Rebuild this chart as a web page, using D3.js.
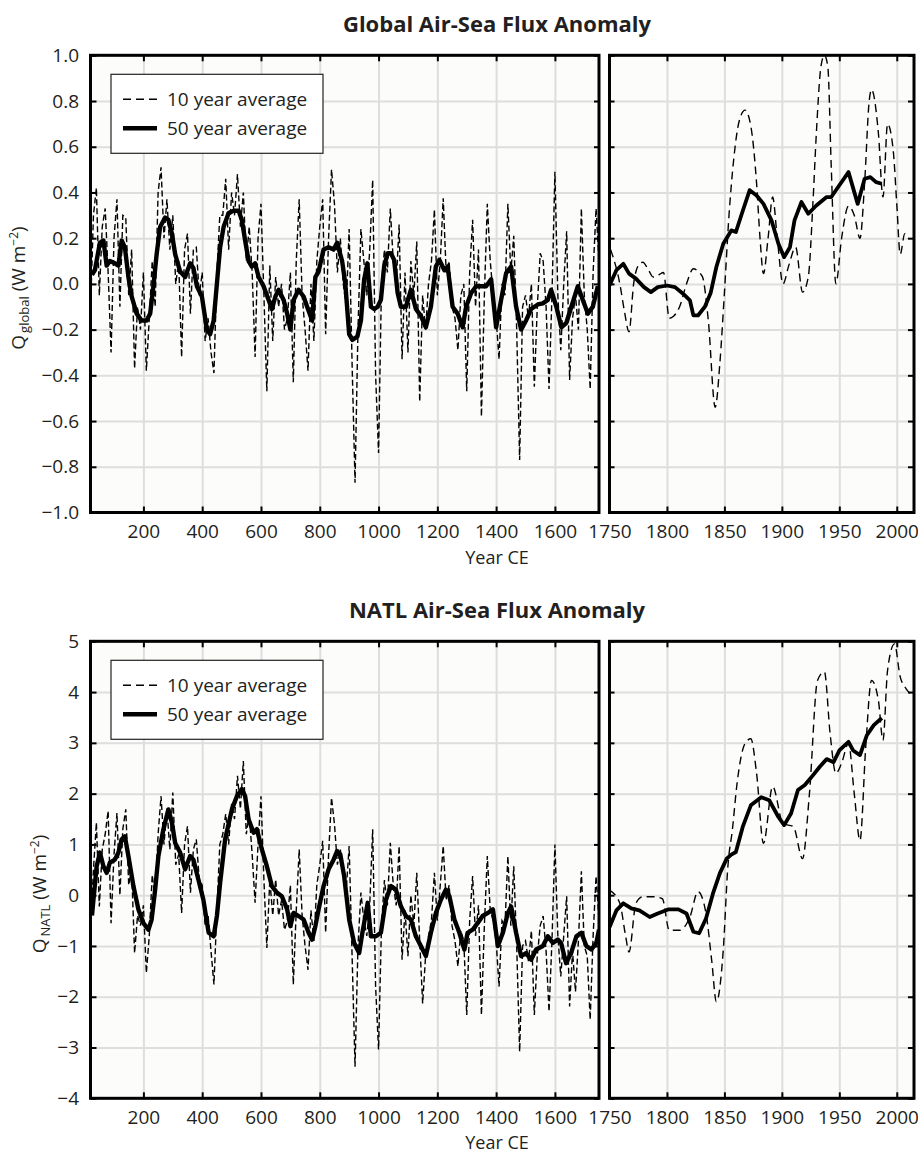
<!DOCTYPE html>
<html><head><meta charset="utf-8">
<script src="https://cdn.jsdelivr.net/npm/d3@7"></script>
<style>
body{margin:0;background:#fff;}
svg{display:block;}
text{font-family:'Open Sans','Noto Sans',sans-serif;fill:#231f20;}
</style>
</head><body>
<svg id="c" width="918" height="1155"></svg>
<script>
// ---------------- DATA ----------------
const leftGridYears = [200, 400, 600, 800, 1000, 1200, 1400, 1600];
const rightGridYears = [1800, 1850, 1900, 1950, 2000];
const rightLabelYears = [1750, 1800, 1850, 1900, 1950, 2000];
const globalTicks = [-1.0, -0.8, -0.6, -0.4, -0.2, 0.0, 0.2, 0.4, 0.6, 0.8, 1.0];
const natlTicks = [-4, -3, -2, -1, 0, 1, 2, 3, 4, 5];
const legendLabels = ["10 year average", "50 year average"];

// Global, 10-year average, 20-1750 CE [year, W m-2]
const global10Left = [
[20,-0.12],[30,0.30],[40,0.42],[50,-0.05],[60,0.25],[70,0.33],[80,0.05],[90,-0.30],[100,0.20],[110,0.37],
[120,-0.10],[130,0.30],[140,0.29],[150,-0.05],[160,0.15],[170,-0.37],[180,-0.10],[190,-0.20],[200,0.05],[210,-0.38],
[220,-0.15],[230,0.10],[240,-0.10],[250,0.40],[260,0.51],[270,0.20],[280,0.37],[290,0.15],[300,0.30],[310,0.00],
[320,0.10],[330,-0.32],[340,0.15],[350,0.22],[360,-0.13],[370,0.15],[380,0.16],[390,-0.05],[400,0.05],[410,-0.25],
[420,-0.15],[430,-0.30],[440,-0.39],[450,0.05],[460,0.30],[470,0.30],[480,0.46],[490,0.15],[500,0.40],[510,0.30],
[520,0.48],[530,0.25],[540,0.40],[550,0.10],[560,0.25],[570,0.05],[580,-0.32],[590,0.20],[600,0.35],[610,-0.05],
[620,-0.47],[630,0.08],[640,-0.25],[650,0.03],[660,-0.10],[670,0.00],[680,-0.20],[690,-0.15],[700,0.05],[710,-0.43],
[720,0.10],[730,0.37],[740,-0.05],[750,-0.20],[760,-0.38],[770,0.00],[780,-0.25],[790,0.10],[800,0.25],[810,0.37],
[820,-0.22],[830,0.20],[840,0.50],[850,0.35],[860,0.05],[870,0.20],[880,0.00],[890,-0.10],[900,0.24],[910,-0.35],
[920,-0.87],[930,-0.20],[940,0.24],[950,0.10],[960,-0.05],[970,0.15],[980,0.455],[990,-0.40],[1000,-0.74],[1010,0.00],
[1020,0.15],[1030,0.05],[1040,0.33],[1050,0.10],[1060,0.00],[1070,0.26],[1080,-0.33],[1090,0.05],[1100,-0.30],[1110,0.10],
[1120,-0.05],[1130,0.185],[1140,-0.515],[1150,-0.05],[1160,-0.20],[1170,0.00],[1180,0.10],[1190,0.325],[1200,-0.05],[1210,0.10],
[1220,0.375],[1230,0.05],[1240,0.10],[1250,-0.10],[1260,-0.15],[1270,-0.29],[1280,-0.05],[1290,0.00],[1300,-0.47],[1310,0.05],
[1320,0.28],[1330,-0.10],[1340,0.15],[1350,-0.58],[1360,-0.05],[1370,0.35],[1380,0.10],[1390,-0.05],[1400,-0.15],[1410,-0.33],
[1420,0.00],[1430,-0.05],[1440,0.35],[1450,0.05],[1460,0.21],[1470,-0.20],[1480,-0.77],[1490,-0.10],[1500,-0.05],[1510,-0.15],
[1520,0.00],[1530,-0.45],[1540,-0.10],[1550,0.134],[1560,0.10],[1570,-0.10],[1580,-0.46],[1590,-0.05],[1600,0.49],[1610,-0.05],
[1620,-0.29],[1630,0.00],[1640,0.23],[1650,-0.42],[1660,-0.15],[1670,-0.05],[1680,-0.20],[1690,0.33],[1700,-0.05],[1710,-0.20],
[1720,-0.46],[1730,0.05],[1740,0.33],[1750,0.10]
];

// Global, 50-year average, 20-1750 CE
const global50Left = [
[25,0.04],[35,0.06],[52,0.18],[64,0.19],[75,0.08],[86,0.10],[103,0.09],[115,0.08],[126,0.19],[137,0.16],
[149,0.03],[160,-0.055],[177,-0.13],[194,-0.16],[211,-0.16],[223,-0.13],[234,-0.01],[245,0.13],[257,0.25],[274,0.29],
[285,0.28],[297,0.22],[308,0.13],[325,0.054],[342,0.03],[359,0.09],[370,0.07],[382,-0.01],[399,-0.055],[416,-0.20],
[427,-0.22],[439,-0.16],[450,0.00],[461,0.16],[473,0.25],[490,0.31],[507,0.32],[524,0.32],[535,0.28],[546,0.19],
[558,0.10],[569,0.076],[580,0.09],[592,0.03],[609,-0.01],[626,-0.07],[637,-0.11],[649,-0.055],[660,-0.026],[677,-0.07],
[689,-0.13],[700,-0.20],[711,-0.07],[728,-0.026],[745,-0.055],[757,-0.10],[774,-0.16],[785,0.03],[796,0.054],[813,0.15],
[830,0.16],[847,0.15],[859,0.18],[876,0.10],[887,0.00],[900,-0.22],[911,-0.245],[928,-0.23],[940,-0.16],[951,0.02],
[962,0.09],[974,-0.10],[985,-0.11],[997,-0.10],[1008,-0.07],[1019,0.076],[1031,0.134],[1042,0.134],[1053,0.105],[1065,-0.04],
[1076,-0.10],[1093,-0.10],[1110,-0.026],[1127,-0.11],[1144,-0.14],[1161,-0.19],[1178,-0.10],[1195,0.076],[1207,0.105],[1224,0.06],
[1235,0.076],[1252,-0.10],[1269,-0.13],[1286,-0.19],[1298,-0.10],[1315,-0.04],[1332,-0.01],[1349,-0.01],[1366,-0.01],[1383,0.02],
[1400,-0.19],[1417,-0.07],[1434,0.047],[1451,0.076],[1468,-0.10],[1485,-0.20],[1502,-0.16],[1519,-0.11],[1542,-0.09],[1559,-0.085],
[1576,-0.07],[1587,-0.026],[1605,-0.10],[1622,-0.19],[1639,-0.17],[1656,-0.10],[1678,-0.01],[1695,-0.07],[1712,-0.13],[1729,-0.10],
[1746,-0.01]
];

// Global, 10-year average, 1750-2015
const global10Right = [
[1751,0.15],[1759,0.00],[1763,-0.12],[1767,-0.21],[1771,0.00],[1775,0.08],[1779,0.095],[1784,0.06],[1788,0.03],[1793,0.04],
[1797,0.05],[1802,-0.15],[1806,-0.14],[1811,-0.10],[1817,0.00],[1823,0.066],[1828,0.05],[1831,0.03],[1836,-0.16],[1842,-0.54],
[1846,-0.35],[1850,-0.04],[1854,0.30],[1858,0.54],[1863,0.715],[1868,0.76],[1873,0.69],[1878,0.44],[1881,0.20],[1884,0.045],
[1888,0.20],[1892,0.38],[1896,0.20],[1901,0.00],[1906,0.08],[1912,0.16],[1918,-0.036],[1923,0.03],[1927,0.35],[1930,0.657],
[1934,0.95],[1937,1.00],[1940,0.95],[1943,0.51],[1947,0.00],[1952,0.20],[1958,0.34],[1963,0.30],[1968,0.20],[1972,0.44],
[1976,0.80],[1978,0.85],[1984,0.66],[1988,0.38],[1992,0.70],[1997,0.58],[2000,0.35],[2003,0.13],[2007,0.22],[2010,0.20]
];

// Global, 50-year average, 1750-2015
const global50Right = [
[1750,-0.007],[1756,0.06],[1762,0.088],[1767,0.045],[1773,0.023],[1780,-0.014],[1786,-0.036],[1792,-0.014],[1800,-0.007],[1807,-0.014],
[1814,-0.043],[1820,-0.072],[1823,-0.138],[1827,-0.138],[1833,-0.10],[1838,-0.04],[1843,0.074],[1849,0.176],[1856,0.234],[1860,0.227],
[1866,0.32],[1872,0.41],[1878,0.387],[1884,0.35],[1891,0.278],[1897,0.176],[1902,0.117],[1907,0.16],[1911,0.278],[1917,0.358],
[1923,0.307],[1930,0.343],[1939,0.38],[1943,0.38],[1949,0.424],[1958,0.489],[1966,0.35],[1972,0.46],[1977,0.467],[1982,0.445],
[1987,0.438]
];

// NATL, 10-year average, 20-1750 CE
const natl10Left = [
[20,-0.68],[30,0.50],[40,1.43],[50,-0.22],[60,0.90],[70,1.20],[80,1.66],[90,-0.55],[100,0.80],[110,1.62],
[120,0.00],[130,1.30],[140,1.69],[150,0.20],[160,0.50],[170,-1.14],[180,-0.40],[190,-0.60],[200,-0.20],[210,-1.53],
[220,-0.80],[230,0.40],[240,-0.09],[250,1.20],[260,1.95],[270,1.00],[280,1.70],[290,0.90],[300,2.02],[310,0.60],
[320,0.80],[330,-0.35],[340,1.00],[350,1.36],[360,0.05],[370,0.90],[380,1.10],[390,0.30],[400,0.20],[410,-0.60],
[420,-0.40],[430,-1.10],[440,-1.76],[450,-0.30],[460,1.00],[470,1.20],[480,1.60],[490,1.00],[500,1.80],[510,1.50],
[520,2.35],[530,1.70],[540,2.64],[550,1.20],[560,1.60],[570,0.80],[580,-0.15],[590,1.00],[600,1.95],[610,0.30],
[620,-1.04],[630,0.31],[640,-0.40],[650,0.31],[660,-0.40],[670,-0.10],[680,-0.68],[690,-0.50],[700,0.20],[710,-1.76],
[720,-0.30],[730,0.90],[740,-0.40],[750,-1.00],[760,-1.47],[770,-0.30],[780,-0.90],[790,0.20],[800,0.60],[810,1.07],
[820,-0.74],[830,0.80],[840,1.92],[850,1.40],[860,0.60],[870,0.90],[880,0.40],[890,0.10],[900,0.97],[910,-1.20],
[920,-3.38],[930,-1.00],[940,0.05],[950,-0.50],[960,-0.80],[970,-0.20],[980,1.30],[990,-1.80],[1000,-3.04],[1010,-0.60],
[1020,0.30],[1030,-0.20],[1040,1.03],[1050,0.20],[1060,-0.20],[1070,0.97],[1080,-1.27],[1090,-0.30],[1100,-1.20],[1110,0.00],
[1120,-0.60],[1130,0.44],[1140,-0.90],[1150,-2.13],[1160,-1.20],[1170,-0.80],[1180,-0.50],[1190,0.44],[1200,-0.50],[1210,0.20],
[1220,0.97],[1230,-0.10],[1240,0.20],[1250,-0.60],[1260,-0.90],[1270,-1.40],[1280,-0.70],[1290,-0.90],[1300,-2.36],[1310,-0.50],
[1320,0.375],[1330,-0.80],[1340,-0.20],[1350,-2.36],[1360,-0.60],[1370,0.77],[1380,-0.30],[1390,-0.50],[1400,-0.90],[1410,-1.80],
[1420,-0.50],[1430,-0.60],[1440,0.77],[1450,-0.60],[1460,0.57],[1470,-1.00],[1480,-3.08],[1490,-1.00],[1500,-0.90],[1510,-1.30],
[1520,-0.70],[1530,-2.36],[1540,-1.20],[1550,-0.60],[1560,-0.41],[1570,-1.10],[1580,-2.29],[1590,-0.90],[1600,1.00],[1610,-0.80],
[1620,-1.60],[1630,-0.80],[1640,-0.02],[1650,-2.19],[1660,-1.10],[1670,-1.90],[1680,-0.90],[1690,0.47],[1700,-1.00],[1710,-1.20],
[1720,-2.45],[1730,-0.80],[1740,0.375],[1750,-0.50]
];

// NATL, 50-year average, 20-1750 CE
const natl50Left = [
[25,-0.40],[30,-0.09],[41,0.57],[52,0.84],[64,0.57],[75,0.44],[86,0.64],[103,0.70],[115,0.84],[126,1.10],
[137,1.16],[149,0.77],[166,0.18],[183,-0.28],[200,-0.55],[217,-0.68],[228,-0.48],[240,0.11],[251,0.77],[268,1.30],
[285,1.69],[297,1.43],[308,1.03],[325,0.84],[342,0.51],[359,0.77],[370,0.70],[387,0.31],[404,-0.09],[422,-0.74],
[439,-0.81],[450,-0.41],[461,0.24],[478,1.10],[501,1.69],[518,1.95],[535,2.09],[546,1.95],[558,1.49],[575,1.23],
[586,1.30],[603,0.90],[620,0.57],[637,0.18],[654,0.05],[671,-0.02],[689,-0.28],[700,-0.61],[711,-0.35],[728,-0.41],
[745,-0.48],[762,-0.74],[774,-0.875],[785,-0.61],[796,-0.28],[813,0.18],[830,0.51],[847,0.70],[859,0.87],[870,0.80],
[883,0.375],[900,-0.48],[917,-0.94],[934,-1.14],[945,-0.74],[963,-0.15],[974,-0.81],[991,-0.81],[1008,-0.74],[1025,-0.09],
[1042,0.18],[1059,0.11],[1076,-0.22],[1093,-0.41],[1110,-0.48],[1127,-0.81],[1144,-1.00],[1161,-1.20],[1178,-0.74],[1195,-0.35],
[1212,-0.09],[1229,0.11],[1241,-0.02],[1258,-0.48],[1275,-0.74],[1292,-1.07],[1303,-0.74],[1320,-0.68],[1337,-0.55],[1354,-0.41],
[1372,-0.35],[1389,-0.28],[1406,-1.00],[1423,-0.74],[1440,-0.35],[1451,-0.22],[1468,-0.74],[1485,-1.20],[1502,-1.14],[1519,-1.27],
[1536,-1.07],[1559,-1.00],[1576,-0.81],[1593,-0.94],[1610,-0.875],[1621,-0.94],[1638,-1.34],[1655,-1.14],[1673,-0.81],[1690,-0.74],
[1707,-1.00],[1724,-1.07],[1741,-0.94],[1750,-0.68]
];

// NATL, 10-year average, 1750-2015
const natl10Right = [
[1750,0.10],[1759,-0.16],[1764,-0.80],[1767,-1.12],[1773,-0.16],[1779,-0.03],[1788,-0.03],[1796,-0.07],[1802,-0.69],[1811,-0.69],
[1820,-0.43],[1827,0.07],[1834,-0.36],[1839,-1.30],[1843,-2.10],[1849,-1.08],[1853,0.56],[1857,1.30],[1861,2.20],[1868,2.99],
[1873,3.08],[1878,2.40],[1884,1.02],[1892,2.14],[1901,1.41],[1910,1.35],[1918,0.72],[1924,2.00],[1931,4.23],[1937,4.40],
[1942,3.18],[1947,2.40],[1952,2.60],[1958,2.99],[1963,2.00],[1968,1.08],[1973,2.92],[1978,4.23],[1984,3.84],[1988,3.05],
[1992,4.43],[1998,4.95],[2003,4.30],[2008,4.07],[2013,3.95]
];

// NATL, 50-year average, 1750-2015
const natl50Right = [
[1750,-0.63],[1756,-0.30],[1762,-0.16],[1769,-0.26],[1776,-0.30],[1785,-0.43],[1792,-0.36],[1801,-0.28],[1810,-0.28],[1817,-0.36],
[1823,-0.72],[1828,-0.75],[1834,-0.46],[1840,0.03],[1846,0.43],[1852,0.72],[1856,0.80],[1860,0.85],[1866,1.35],[1873,1.77],
[1882,1.93],[1889,1.87],[1897,1.54],[1902,1.38],[1908,1.61],[1914,2.07],[1920,2.17],[1927,2.36],[1933,2.53],[1939,2.68],
[1945,2.62],[1950,2.85],[1958,3.02],[1962,2.85],[1968,2.76],[1974,3.15],[1980,3.35],[1987,3.49]
];

// ---------------- LAYOUT ----------------
const panels = {
  left:  {x0: 90.5, x1: 599, domain: [20, 1750], grid: leftGridYears, labels: leftGridYears, dash: "6,3", thick: 4.4},
  right: {x0: 609.5, x1: 914, domain: [1750, 2015], grid: rightGridYears, labels: rightLabelYears, dash: "8,5", thick: 3.8}
};
const charts = [
  {key: "g", top: 55.3, bottom: 512.5, domain: [-1, 1], ticks: globalTicks, fmt: d3.format(".1f"),
   title: "Global Air-Sea Flux Anomaly", sub: "global", labX: 25, labY: 288,
   left10: global10Left, left50: global50Left, right10: global10Right, right50: global50Right},
  {key: "n", top: 641.3, bottom: 1098.3, domain: [-4, 5], ticks: natlTicks, fmt: d3.format("d"),
   title: "NATL Air-Sea Flux Anomaly", sub: "NATL", labX: 46, labY: 894,
   left10: natl10Left, left50: natl50Left, right10: natl10Right, right50: natl50Right}
];

const svg = d3.select("#c");
const defs = svg.append("defs");
const FS = 19;

function styleAxis(sel, color, width) {
  sel.select(".domain").remove();
  sel.attr("font-size", null).attr("font-family", null);
  sel.selectAll("line").attr("stroke", color).attr("stroke-width", width);
}

charts.forEach(ch => {
  const y = d3.scaleLinear().domain(ch.domain).range([ch.bottom, ch.top]);
  const h = ch.bottom - ch.top;

  ["left", "right"].forEach(side => {
    const P = panels[side];
    const w = P.x1 - P.x0;
    const x = d3.scaleLinear().domain(P.domain).range([P.x0, P.x1]);
    const g = svg.append("g");

    g.append("rect").attr("x", P.x0).attr("y", ch.top).attr("width", w).attr("height", h).attr("fill", "#fcfcfb");

    // grid
    g.append("g").attr("transform", `translate(0,${ch.bottom})`)
      .call(d3.axisBottom(x).tickValues(P.grid).tickSize(-h).tickFormat(""))
      .call(s => styleAxis(s, "#dedede", 2));
    g.append("g").attr("transform", `translate(${P.x0},0)`)
      .call(d3.axisLeft(y).tickValues(ch.ticks).tickSize(-w).tickFormat(""))
      .call(s => styleAxis(s, "#dedede", 2));

    // data lines
    const cid = `clip-${ch.key}-${side}`;
    defs.append("clipPath").attr("id", cid).append("rect")
      .attr("x", P.x0).attr("y", ch.top).attr("width", w).attr("height", h);
    const lg = g.append("g").attr("clip-path", `url(#${cid})`);
    const line10 = d3.line().x(d => x(d[0])).y(d => y(d[1]))
      .curve(side === "right" ? d3.curveMonotoneX : d3.curveLinear);
    const line50 = d3.line().x(d => x(d[0])).y(d => y(d[1]));
    lg.append("path").datum(ch[side + "10"]).attr("d", line10)
      .attr("fill", "none").attr("stroke", "#000").attr("stroke-width", 1.4)
      .attr("stroke-dasharray", P.dash);
    lg.append("path").datum(ch[side + "50"]).attr("d", line50)
      .attr("fill", "none").attr("stroke", "#000").attr("stroke-width", P.thick)
      .attr("stroke-linejoin", "round");

    // inward ticks
    const yl = g.append("g").attr("transform", `translate(${P.x0},0)`)
      .call(d3.axisLeft(y).tickValues(ch.ticks).tickSize(side === "left" ? -6 : -5).tickPadding(11.5)
        .tickFormat(side === "left" ? ch.fmt : ""))
      .call(s => styleAxis(s, "#000", 2));
    yl.selectAll("text").attr("font-size", FS).attr("fill", "#231f20");
    g.append("g").attr("transform", `translate(${P.x1},0)`)
      .call(d3.axisRight(y).tickValues(ch.ticks).tickSize(side === "left" ? -5 : -6).tickFormat(""))
      .call(s => styleAxis(s, "#000", 2));
    g.append("g").attr("transform", `translate(0,${ch.top})`)
      .call(d3.axisTop(x).tickValues(P.grid).tickSize(-6).tickFormat(""))
      .call(s => styleAxis(s, "#000", 2));
    const xb = g.append("g").attr("transform", `translate(0,${ch.bottom})`)
      .call(d3.axisBottom(x).tickValues(P.labels).tickSize(-6).tickPadding(12.5).tickFormat(d3.format("d")))
      .call(s => styleAxis(s, "#000", 2));
    xb.selectAll("text").attr("font-size", FS).attr("fill", "#231f20");

    // frame
    g.append("rect").attr("x", P.x0).attr("y", ch.top).attr("width", w).attr("height", h)
      .attr("fill", "none").attr("stroke", "#000").attr("stroke-width", 3);
  });

  // title
  svg.append("text").attr("x", 497).attr("y", ch.top - 23).attr("text-anchor", "middle")
    .attr("font-size", 22).attr("font-weight", 700).text(ch.title);

  // x label
  svg.append("text").attr("x", 497).attr("y", ch.bottom + 51.1).attr("text-anchor", "middle")
    .attr("font-size", 18).text("Year CE");

  // y label
  const yt = svg.append("text").attr("transform", `translate(${ch.labX},${ch.labY}) rotate(-90)`)
    .attr("text-anchor", "middle").attr("font-size", FS);
  yt.append("tspan").text("Q");
  yt.append("tspan").attr("font-size", 13).attr("dy", 4).attr("dx", 2).text(ch.sub);
  yt.append("tspan").attr("dy", -4).text(" (W m");
  yt.append("tspan").attr("font-size", 12).attr("dy", -7).text("\u22122");
  yt.append("tspan").attr("dy", 7).text(")");

  // legend
  const lx = 111, ly = ch.top + 19;
  const leg = svg.append("g");
  leg.append("rect").attr("x", lx).attr("y", ly).attr("width", 212).attr("height", 79)
    .attr("fill", "#fff").attr("stroke", "#222").attr("stroke-width", 1.2);
  const styles = [{w: 1.6, dash: "8,5"}, {w: 4.5, dash: null}];
  legendLabels.forEach((lab, i) => {
    const cy = ly + 25 + i * 29;
    leg.append("line").attr("x1", lx + 12).attr("x2", lx + 46).attr("y1", cy).attr("y2", cy)
      .attr("stroke", "#000").attr("stroke-width", styles[i].w)
      .attr("stroke-dasharray", styles[i].dash);
    leg.append("text").attr("x", lx + 56).attr("y", cy + 6.5).attr("font-size", FS).text(lab);
  });
});
</script>
</body></html>
